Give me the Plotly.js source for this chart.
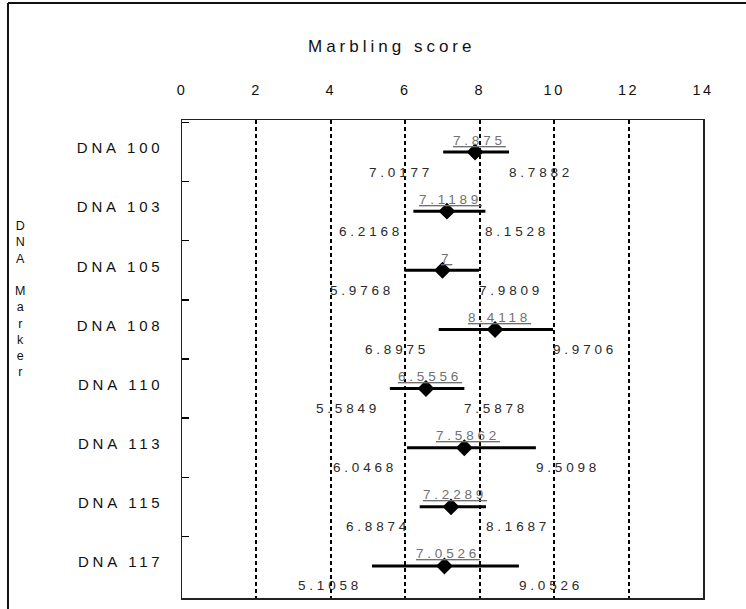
<!DOCTYPE html>
<html>
<head>
<meta charset="utf-8">
<script src="https://cdn.plot.ly/plotly-3.0.1.min.js"></script>
<style>
  html, body { margin: 0; padding: 0; background: #fff; }
  #chart { width: 746px; height: 609px; }
  .xtick text { letter-spacing: 2.5px; }
  .ytick text { letter-spacing: 3.8px; }
</style>
</head>
<body>
<div id="chart"></div>
<script>
// ---- data ----
var markers = ["DNA 100", "DNA 103", "DNA 105", "DNA 108", "DNA 110", "DNA 113", "DNA 115", "DNA 117"];
var meanScore = [7.875, 7.1189, 7.0, 8.4118, 6.5556, 7.5862, 7.2289, 7.0526];
var lowerScore = [7.0177, 6.2168, 5.9768, 6.8975, 5.5849, 6.0468, 6.3874, 5.1058];
var upperScore = [8.7882, 8.1528, 7.9809, 9.9706, 7.5878, 9.5098, 8.1687, 9.0526];
var meanLabels = ["7.875", "7.1189", "7", "8.4118", "6.5556", "7.5862", "7.2289", "7.0526"];
var lowerLabels = ["7.0177", "6.2168", "5.9768", "6.8975", "5.5849", "6.0468", "6.8874", "5.1058"];
var upperLabels = ["8.7882", "8.1528", "7.9809", "9.9706", "7.5878", "9.5098", "8.1687", "9.0526"];
var xTicks = [0, 2, 4, 6, 8, 10, 12, 14];

var FONT = "Liberation Sans, Arial, sans-serif";

var trace = {
  type: "scatter",
  mode: "markers",
  x: meanScore,
  y: markers,
  marker: { symbol: "diamond", size: 13, color: "#000" },
  error_x: {
    type: "data",
    symmetric: false,
    array: upperScore.map(function (u, i) { return u - meanScore[i]; }),
    arrayminus: lowerScore.map(function (l, i) { return meanScore[i] - l; }),
    color: "#000",
    thickness: 3,
    width: 0
  },
  hoverinfo: "skip",
  showlegend: false,
  cliponaxis: false
};

var spaced = function (t, ls) { return '<span style="letter-spacing:' + ls + 'px">' + t + '</span>'; };

var annotations = [];
markers.forEach(function (m, i) {
  annotations.push({
    x: meanScore[i], y: m, xref: "x", yref: "y",
    text: "<u>" + spaced(meanLabels[i], 3.8) + "</u>",
    showarrow: false, xanchor: "center", yanchor: "middle", yshift: 12, xshift: 4,
    font: { family: FONT, size: 13.5, color: "#707070" }
  });
  annotations.push({
    x: lowerScore[i], y: m, xref: "x", yref: "y",
    text: spaced(lowerLabels[i], 3.8),
    showarrow: false, xanchor: "right", yanchor: "middle", yshift: -20, xshift: -8,
    font: { family: FONT, size: 13.5, color: "#2a2a2a" }
  });
  annotations.push({
    x: upperScore[i], y: m, xref: "x", yref: "y",
    text: spaced(upperLabels[i], 3.8),
    showarrow: false, xanchor: "left", yanchor: "middle", yshift: -20, xshift: -2,
    font: { family: FONT, size: 13.5, color: "#2a2a2a" }
  });
});

// axis title (top) and vertical stacked y title
annotations.push({
  xref: "paper", yref: "paper", x: 0.403, y: 1.1547,
  text: spaced("Marbling score", 4),
  showarrow: false, xanchor: "center", yanchor: "middle",
  font: { family: FONT, size: 17, color: "#111" }
});
annotations.push({
  xref: "paper", yref: "paper", x: -0.311, y: 0.6255,
  text: "D<br>N<br>A<br> <br>M<br>a<br>r<br>k<br>e<br>r",
  showarrow: false, xanchor: "center", yanchor: "middle",
  font: { family: FONT, size: 12.5, color: "#111" }
});

var layout = {
  width: 746,
  height: 609,
  margin: { l: 182, r: 43, t: 120, b: 11 },
  paper_bgcolor: "#fff",
  plot_bgcolor: "#fff",
  font: { family: FONT, size: 14, color: "#111" },
  xaxis: {
    side: "top",
    range: [0, 14],
    tickvals: xTicks,
    ticktext: xTicks.map(String),
    ticks: "",
    ticklabelstandoff: 18,
    tickfont: { family: FONT, size: 14.5, color: "#111" },
    showgrid: true,
    gridcolor: "#000",
    gridwidth: 2,
    griddash: "4px,3px",
    zeroline: false,
    showline: true,
    mirror: true,
    linecolor: "#222",
    linewidth: 1.5,
    fixedrange: true
  },
  yaxis: {
    type: "category",
    categoryorder: "array",
    categoryarray: markers,
    autorange: "reversed",
    ticks: "inside",
    tickson: "boundaries",
    ticklen: 7,
    tickwidth: 1.5,
    tickcolor: "#000",
    ticklabelstandoff: 14,
    ticklabelshift: 4,
    tickfont: { family: FONT, size: 15, color: "#111" },
    showgrid: false,
    zeroline: false,
    showline: true,
    mirror: true,
    linecolor: "#222",
    linewidth: 1.5,
    fixedrange: true
  },
  shapes: [
    { type: "line", xref: "paper", yref: "paper", x0: -0.334, x1: -0.334, y0: -0.05, y1: 1.2448,
      line: { color: "#111", width: 2 } },
    { type: "line", xref: "paper", yref: "paper", x0: -0.334, x1: 1.2, y0: 1.2448, y1: 1.2448,
      line: { color: "#111", width: 2 } }
  ],
  annotations: annotations
};

Plotly.newPlot("chart", [trace], layout, { displayModeBar: false, staticPlot: true });
</script>
</body>
</html>
